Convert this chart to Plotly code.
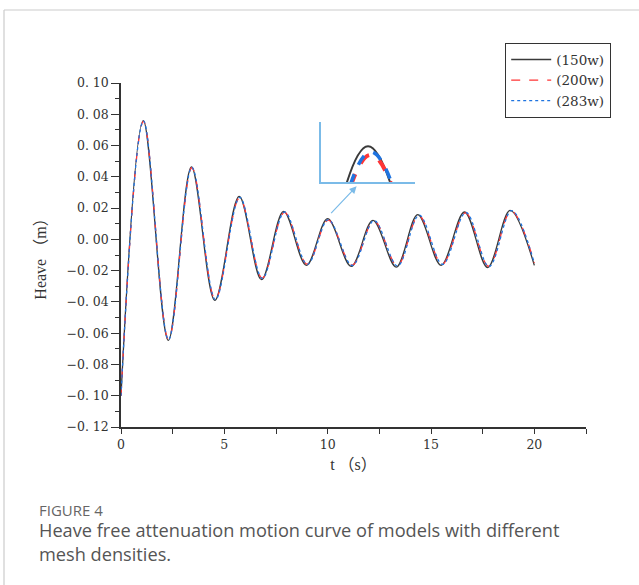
import plotly.graph_objects as go

# ---------------- data ----------------
# extrema / key points of each heave record, time in s, heave in m
t_150 = [0.0, 1.08, 2.29, 3.41, 4.54, 5.72, 6.80, 7.87, 8.97, 10.00, 11.14, 12.19, 13.32, 14.36, 15.49, 16.62, 17.74, 18.83, 20.0]
h_150 = [-0.100, 0.0760, -0.0646, 0.0463, -0.0390, 0.0275, -0.0258, 0.0179, -0.0166, 0.0132, -0.0173, 0.0122, -0.0177, 0.0158, -0.0166, 0.0175, -0.0180, 0.0186, -0.0166]

t_200 = [0.0, 1.09, 2.30, 3.43, 4.56, 5.74, 6.83, 7.91, 9.01, 10.03, 11.18, 12.24, 13.37, 14.41, 15.54, 16.67, 17.79, 18.88, 20.0]
h_200 = [-0.100, 0.0755, -0.0640, 0.0458, -0.0383, 0.0265, -0.0248, 0.0172, -0.0158, 0.0123, -0.0165, 0.0118, -0.0168, 0.0152, -0.0158, 0.0170, -0.0172, 0.0182, -0.0150]

t_283 = [0.0, 1.09, 2.30, 3.43, 4.57, 5.75, 6.84, 7.92, 9.02, 10.03, 11.19, 12.25, 13.38, 14.43, 15.56, 16.69, 17.81, 18.90, 20.0]
h_283 = [-0.100, 0.0757, -0.0641, 0.0460, -0.0385, 0.0268, -0.0250, 0.0175, -0.0160, 0.0126, -0.0167, 0.0120, -0.0170, 0.0155, -0.0160, 0.0172, -0.0174, 0.0184, -0.0152]

series_names = ["(150w)", "(200w)", "(283w)"]

y_tickvals = [0.10, 0.08, 0.06, 0.04, 0.02, 0.00, -0.02, -0.04, -0.06, -0.08, -0.10, -0.12]
y_ticktext = ["0. 10", "0. 08", "0. 06", "0. 04", "0. 02", "0. 00", "\u22120. 02", "\u22120. 04",
              "\u22120. 06", "\u22120. 08", "\u22120. 10", "\u22120. 12"]
x_tickvals = [0, 5, 10, 15, 20]
x_ticktext = ["0", "5", "10", "15", "20"]

caption_head = "FIGURE 4"
caption_body = "Heave free attenuation motion curve of models with different<br>mesh densities."

# ---------------- layout helpers ----------------
W, H = 639, 585
L, R, T, B = 121, 53, 83, 158
PW, PH = W - L - R, H - T - B


def px(x):
    return (x - L) / PW


def py(y):
    return (H - B - y) / PH


SERIF = "DejaVu Serif, Liberation Serif, Noto Sans CJK SC, serif"
TITLE_FONT = "Liberation Serif, Noto Sans CJK SC, serif"
SANS = "Open Sans, Noto Sans, sans-serif"
C_BLACK = "#3a3a3a"
C_RED = "#ff3535"
C_BLUE = "#1f74e0"
C_AX = "#333333"
C_INSET = "#7bbbe8"

fig = go.Figure()

# main curves
fig.add_trace(go.Scatter(x=t_150, y=h_150, name=series_names[0], mode="lines",
                         line=dict(color=C_BLACK, width=1.3, shape="spline", smoothing=1.0)))
fig.add_trace(go.Scatter(x=t_200, y=h_200, name=series_names[1], mode="lines",
                         line=dict(color=C_RED, width=1.3, dash="dash", shape="spline", smoothing=1.0)))
fig.add_trace(go.Scatter(x=t_283, y=h_283, name=series_names[2], mode="lines",
                         line=dict(color=C_BLUE, width=1.3, dash="dot", shape="spline", smoothing=1.0)))

# inset (zoom of the peak near t = 10 s)
fig.add_trace(go.Scatter(x=t_150, y=h_150, mode="lines", showlegend=False, xaxis="x2", yaxis="y2",
                         line=dict(color=C_BLACK, width=2, shape="spline", smoothing=1.0)))
fig.add_trace(go.Scatter(x=t_200, y=h_200, mode="lines", showlegend=False, xaxis="x2", yaxis="y2",
                         line=dict(color=C_RED, width=4, dash="dash", shape="spline", smoothing=1.0)))
fig.add_trace(go.Scatter(x=t_283, y=h_283, mode="lines", showlegend=False, xaxis="x2", yaxis="y2",
                         line=dict(color=C_BLUE, width=3.5, dash="dash", shape="spline", smoothing=1.0)))

fig.update_layout(
    width=W, height=H,
    margin=dict(l=L, r=R, t=T, b=B, autoexpand=False),
    paper_bgcolor="white", plot_bgcolor="white",
    font=dict(family=SERIF, color=C_AX),
    xaxis=dict(range=[0, 22.5], showgrid=False, zeroline=False,
               showline=True, linecolor=C_AX, linewidth=1.5,
               tickvals=x_tickvals, ticktext=x_ticktext,
               ticks="outside", ticklen=5, tickwidth=1.3, tickcolor=C_AX,
               minor=dict(dtick=2.5, tick0=0, ticks="outside", ticklen=5, tickwidth=1.3, tickcolor=C_AX),
               tickfont=dict(family=SERIF, size=12.5, color=C_AX),
               title=dict(text="t \uff08s\uff09", font=dict(family=TITLE_FONT, size=16, color=C_AX), standoff=8)),
    yaxis=dict(range=[-0.12, 0.10], showgrid=False, zeroline=False,
               showline=True, linecolor=C_AX, linewidth=1.5,
               tickvals=y_tickvals, ticktext=y_ticktext,
               ticks="outside", ticklen=8, tickwidth=1.3, tickcolor=C_AX,
               minor=dict(dtick=0.01, tick0=0, ticks="outside", ticklen=4, tickwidth=1.3, tickcolor=C_AX),
               tickfont=dict(family=SERIF, size=12.5, color=C_AX),
               title=dict(text="Heave \uff08m\uff09", font=dict(family=TITLE_FONT, size=16, color=C_AX), standoff=16)),
    xaxis2=dict(domain=[px(321), px(415)], anchor="y2", range=[9.48, 10.52],
                showgrid=False, zeroline=False, showticklabels=False, ticks="",
                showline=True, linecolor=C_INSET, linewidth=1.5),
    yaxis2=dict(domain=[py(182), py(122)], anchor="x2", range=[0.0095, 0.0157],
                showgrid=False, zeroline=False, showticklabels=False, ticks="",
                showline=True, linecolor=C_INSET, linewidth=1.5),
    legend=dict(x=px(505), y=py(43), xanchor="left", yanchor="top",
                bgcolor="white", bordercolor=C_AX, borderwidth=1.2,
                font=dict(family=SERIF, size=13.5, color=C_AX),
                itemwidth=40, tracegroupgap=0),
    showlegend=True,
)

# arrow from the peak to the inset
fig.add_annotation(x=11.4, y=0.034, ax=10.1, ay=0.0158, xref="x", yref="y", axref="x", ayref="y",
                   text="", showarrow=True, arrowhead=2, arrowsize=1.2, arrowwidth=1.2,
                   arrowcolor=C_INSET)

# caption
fig.add_annotation(x=px(37), y=py(510), xref="paper", yref="paper", xanchor="left", yanchor="middle",
                   text=caption_head, showarrow=False,
                   font=dict(family=SANS, size=15, color="#666"))
fig.add_annotation(x=px(37), y=py(541.5), xref="paper", yref="paper", xanchor="left", yanchor="middle",
                   text=caption_body, showarrow=False, align="left",
                   font=dict(family=SANS, size=18.2, color="#555"))

# frame lines of the figure panel
fig.add_shape(type="line", xref="paper", yref="paper", x0=px(4), y0=py(10), x1=px(W + 2), y1=py(10),
              line=dict(color="#cccccc", width=1.2))
fig.add_shape(type="line", xref="paper", yref="paper", x0=px(4), y0=py(10), x1=px(4), y1=py(H + 2),
              line=dict(color="#cccccc", width=1.2))

fig.write_html("out.html", config={"displayModeBar": False},
               post_script="document.body.style.margin='0px';")
